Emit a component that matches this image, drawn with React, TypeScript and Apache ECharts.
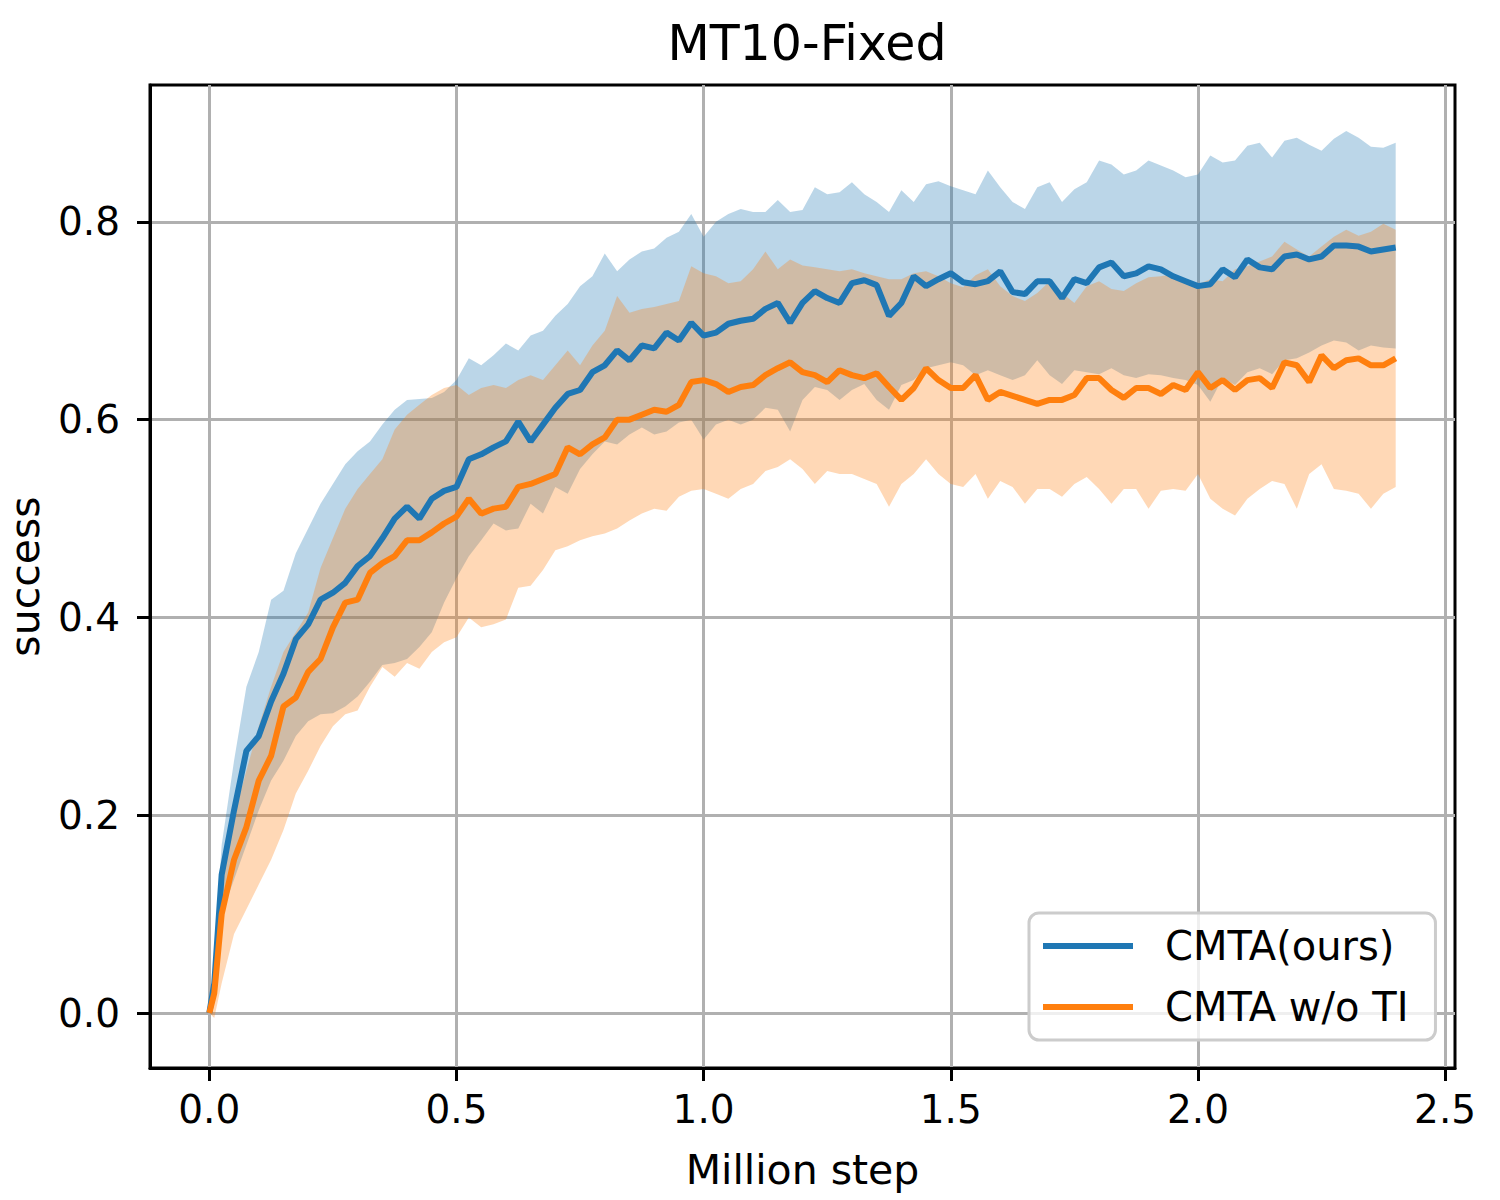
import React, { useEffect, useRef } from "react";
import * as echarts from "echarts";

// x positions (million steps)
const X = [
  0, 0.01, 0.025, 0.05, 0.075, 0.1, 0.125, 0.15, 0.175, 0.2, 0.225,
  0.25, 0.275, 0.3, 0.325, 0.35, 0.375, 0.4, 0.425, 0.45, 0.475,
  0.5, 0.525, 0.55, 0.575, 0.6, 0.625, 0.65, 0.675, 0.7, 0.725,
  0.75, 0.775, 0.8, 0.825, 0.85, 0.875, 0.9, 0.925, 0.95, 0.975,
  1.0, 1.025, 1.05, 1.075, 1.1, 1.125, 1.15, 1.175, 1.2, 1.225,
  1.25, 1.275, 1.3, 1.325, 1.35, 1.375, 1.4, 1.425, 1.45, 1.475,
  1.5, 1.525, 1.55, 1.575, 1.6, 1.625, 1.65, 1.675, 1.7, 1.725,
  1.75, 1.775, 1.8, 1.825, 1.85, 1.875, 1.9, 1.925, 1.95, 1.975,
  2.0, 2.025, 2.05, 2.075, 2.1, 2.125, 2.15, 2.175, 2.2, 2.225,
  2.25, 2.275, 2.3, 2.325, 2.35, 2.375, 2.4,
];

// CMTA(ours): mean, upper and lower band
const blueMean = [
  0, 0.03, 0.14, 0.205, 0.265, 0.28, 0.315, 0.343, 0.378, 0.393, 0.418,
  0.425, 0.435, 0.452, 0.462, 0.48, 0.5, 0.512, 0.5, 0.52, 0.528,
  0.532, 0.56, 0.565, 0.572, 0.578, 0.598, 0.578, 0.595, 0.612, 0.626,
  0.63, 0.648, 0.655, 0.67, 0.66, 0.675, 0.672, 0.688, 0.68, 0.698,
  0.685, 0.688, 0.697, 0.7, 0.702, 0.712, 0.718, 0.698, 0.718, 0.73,
  0.723, 0.718, 0.738, 0.741, 0.736, 0.705, 0.718, 0.745, 0.735, 0.742,
  0.748, 0.739, 0.737, 0.74, 0.75, 0.729, 0.727, 0.74, 0.74, 0.723,
  0.742, 0.738, 0.754, 0.759, 0.745, 0.748, 0.755, 0.752, 0.745, 0.74,
  0.735, 0.737, 0.752, 0.744, 0.762, 0.754, 0.752, 0.765, 0.767, 0.762,
  0.765, 0.776, 0.776, 0.775, 0.77, 0.772, 0.774,
];
const blueUpper = [
  0, 0.06, 0.17, 0.255, 0.33, 0.365, 0.418, 0.427, 0.465, 0.49, 0.515,
  0.535, 0.555, 0.568, 0.578, 0.595, 0.61, 0.62, 0.621, 0.622, 0.628,
  0.64, 0.662, 0.655, 0.665, 0.677, 0.67, 0.685, 0.69, 0.705, 0.717,
  0.735, 0.745, 0.768, 0.75, 0.762, 0.77, 0.773, 0.784, 0.79, 0.808,
  0.785, 0.8, 0.808, 0.813, 0.81, 0.81, 0.822, 0.81, 0.812, 0.835,
  0.828, 0.83, 0.84, 0.828, 0.82, 0.81, 0.832, 0.82, 0.838, 0.841,
  0.836, 0.832, 0.828, 0.852, 0.835, 0.82, 0.813, 0.835, 0.84, 0.82,
  0.833, 0.84, 0.862, 0.858, 0.848, 0.852, 0.862, 0.857, 0.852, 0.845,
  0.848, 0.867, 0.86, 0.862, 0.877, 0.88, 0.865, 0.882, 0.885, 0.878,
  0.872, 0.884, 0.892, 0.885, 0.876, 0.875, 0.88,
];
const blueLower = [
  0, 0.01, 0.1, 0.135, 0.17, 0.205, 0.235, 0.255, 0.28, 0.295, 0.302,
  0.303, 0.31, 0.32, 0.335, 0.352, 0.354, 0.358, 0.37, 0.385, 0.415,
  0.44, 0.462, 0.478, 0.495, 0.488, 0.49, 0.515, 0.505, 0.532, 0.525,
  0.55, 0.565, 0.578, 0.575, 0.585, 0.592, 0.585, 0.588, 0.597, 0.6,
  0.58, 0.595, 0.6, 0.595, 0.6, 0.612, 0.61, 0.588, 0.62, 0.633,
  0.63, 0.62, 0.63, 0.636, 0.62, 0.61, 0.635, 0.64, 0.652, 0.655,
  0.658, 0.655, 0.645, 0.65, 0.645, 0.64, 0.645, 0.66, 0.645, 0.636,
  0.65, 0.648, 0.646, 0.652, 0.645, 0.642, 0.646, 0.645, 0.642, 0.64,
  0.635, 0.618, 0.642, 0.635, 0.648, 0.652, 0.646, 0.66, 0.662, 0.668,
  0.675, 0.68, 0.678, 0.67, 0.675, 0.673, 0.672,
];

// CMTA w/o TI: mean, upper and lower band
const orangeMean = [
  0, 0.02, 0.1, 0.155, 0.188, 0.235, 0.26, 0.31, 0.319, 0.345, 0.358,
  0.39, 0.415, 0.418, 0.445, 0.455, 0.462, 0.478, 0.478, 0.486, 0.495,
  0.502, 0.52, 0.505, 0.51, 0.512, 0.532, 0.535, 0.54, 0.545, 0.572,
  0.565, 0.575, 0.582, 0.6, 0.6, 0.605, 0.61, 0.608, 0.615, 0.638,
  0.64, 0.636, 0.628, 0.633, 0.635, 0.645, 0.652, 0.658, 0.648, 0.645,
  0.638, 0.65, 0.645, 0.642, 0.647, 0.633, 0.62, 0.632, 0.652, 0.64,
  0.632, 0.632, 0.645, 0.62, 0.628, 0.624, 0.62, 0.616, 0.62, 0.62,
  0.625, 0.642, 0.642, 0.63, 0.622, 0.632, 0.632, 0.626, 0.635, 0.63,
  0.648, 0.632, 0.64, 0.63, 0.64, 0.642, 0.632, 0.658, 0.655, 0.638,
  0.665, 0.652, 0.66, 0.662, 0.655, 0.655, 0.662,
];
const orangeUpper = [
  0, 0.04, 0.13, 0.2, 0.245, 0.29, 0.33, 0.365, 0.385, 0.405, 0.45,
  0.48, 0.51, 0.53, 0.545, 0.56, 0.59, 0.605, 0.615, 0.625, 0.632,
  0.635, 0.625, 0.632, 0.635, 0.632, 0.64, 0.645, 0.64, 0.655, 0.67,
  0.655, 0.675, 0.69, 0.725, 0.708, 0.712, 0.714, 0.717, 0.72, 0.755,
  0.748, 0.745, 0.738, 0.74, 0.752, 0.77, 0.752, 0.762, 0.756, 0.754,
  0.752, 0.75, 0.752, 0.748, 0.745, 0.742, 0.742, 0.748, 0.75, 0.745,
  0.738, 0.734, 0.746, 0.752, 0.735, 0.725, 0.72, 0.728, 0.74, 0.728,
  0.718, 0.735, 0.74, 0.732, 0.73, 0.738, 0.744, 0.745, 0.747, 0.742,
  0.737, 0.742, 0.74, 0.752, 0.755, 0.76, 0.765, 0.78, 0.772, 0.765,
  0.775, 0.785, 0.792, 0.786, 0.79, 0.798, 0.792,
];
const orangeLower = [
  0, -0.005, 0.03, 0.08, 0.105, 0.13, 0.155, 0.185, 0.222, 0.245, 0.27,
  0.29, 0.302, 0.306, 0.33, 0.35, 0.34, 0.354, 0.348, 0.365, 0.375,
  0.38, 0.4, 0.39, 0.393, 0.398, 0.43, 0.432, 0.448, 0.468, 0.472,
  0.478, 0.482, 0.485, 0.49, 0.498, 0.505, 0.51, 0.508, 0.522, 0.528,
  0.53, 0.525, 0.52, 0.53, 0.535, 0.548, 0.552, 0.56, 0.55, 0.535,
  0.548, 0.545, 0.545, 0.54, 0.535, 0.512, 0.535, 0.545, 0.56, 0.545,
  0.535, 0.532, 0.545, 0.52, 0.538, 0.532, 0.515, 0.53, 0.53, 0.522,
  0.535, 0.542, 0.53, 0.515, 0.53, 0.53, 0.51, 0.528, 0.53, 0.528,
  0.545, 0.52, 0.51, 0.503, 0.52, 0.53, 0.538, 0.535, 0.51, 0.545,
  0.555, 0.53, 0.528, 0.525, 0.51, 0.525, 0.532,
];

const xTicks = [0, 0.5, 1.0, 1.5, 2.0, 2.5];
const yTicks = [0, 0.2, 0.4, 0.6, 0.8];

const BLUE = "#1f77b4";
const ORANGE = "#ff7f0e";
const FONT = "DejaVu Sans";

const pairs = (ys: number[]) => X.map((x, i) => [x, ys[i]]);

function bandSeries(upper: number[], lower: number[], fill: string) {
  return {
    type: "custom",
    silent: true,
    clip: true,
    z: 2,
    data: [[X[0], lower[0]]],
    renderItem: (_params: any, api: any) => {
      const pts: number[][] = [];
      for (let i = 0; i < X.length; i++) pts.push(api.coord([X[i], upper[i]]));
      for (let i = X.length - 1; i >= 0; i--) pts.push(api.coord([X[i], lower[i]]));
      return {
        type: "polygon",
        shape: { points: pts },
        style: { fill, stroke: "none" },
      };
    },
  };
}

export default function App() {
  const ref = useRef<HTMLDivElement>(null);
  useEffect(() => {
    if (!ref.current) return;
    const chart = echarts.init(ref.current, undefined, { renderer: "svg" });
    const axisCommon = {
      type: "value",
      axisLine: { show: true, onZero: false, lineStyle: { color: "#000", width: 3 } },
      axisTick: { show: true, length: 13, lineStyle: { color: "#000", width: 3 } },
      splitLine: { show: true, lineStyle: { color: "#b0b0b0", width: 3 } },
      nameTextStyle: { fontSize: 41, lineHeight: 30, color: "#000", fontFamily: FONT },
    };
    chart.setOption({
      animation: false,
      backgroundColor: "#fff",
      title: {
        text: "MT10-Fixed",
        left: 802,
        textAlign: "center",
        top: 14,
        textStyle: { fontSize: 49, fontWeight: "normal", color: "#000", fontFamily: FONT },
      },
      grid: {
        left: 150,
        right: 45,
        top: 85,
        bottom: 132,
        show: true,
        borderColor: "#000",
        borderWidth: 3,
        backgroundColor: "transparent",
        outerBoundsMode: "none",
        containLabel: false,
      },
      legend: {
        orient: "vertical",
        left: 1029,
        top: 913,
        data: ["CMTA(ours)", "CMTA w/o TI"],
        icon: "rect",
        itemWidth: 90,
        itemHeight: 6,
        itemGap: 21,
        padding: [13, 27, 13, 14],
        backgroundColor: "rgba(255,255,255,0.8)",
        borderColor: "#cccccc",
        borderWidth: 3,
        borderRadius: 10,
        textStyle: {
          fontSize: 40,
          lineHeight: 40,
          color: "#000",
          fontFamily: FONT,
          padding: [0, 0, 0, 27],
        },
      },
      xAxis: {
        ...axisCommon,
        min: -0.12,
        max: 2.52,
        name: "Million step",
        nameLocation: "middle",
        nameGap: 87,
        axisTick: { ...axisCommon.axisTick, customValues: xTicks },
        axisLabel: {
          customValues: xTicks,
          formatter: (v: number) => v.toFixed(1),
          fontSize: 39,
          color: "#000",
          fontFamily: FONT,
          margin: 22,
        },
      },
      yAxis: {
        ...axisCommon,
        min: -0.0556,
        max: 0.9384,
        name: "success",
        nameLocation: "middle",
        nameGap: 110,
        axisTick: { ...axisCommon.axisTick, customValues: yTicks },
        axisLabel: {
          customValues: yTicks,
          formatter: (v: number) => v.toFixed(1),
          fontSize: 39,
          color: "#000",
          fontFamily: FONT,
          margin: 30,
        },
      },
      series: [
        bandSeries(blueUpper, blueLower, "rgba(31,119,180,0.3)"),
        bandSeries(orangeUpper, orangeLower, "rgba(255,127,14,0.3)"),
        {
          type: "line",
          name: "CMTA(ours)",
          symbol: "none",
          color: BLUE,
          lineStyle: { color: BLUE, width: 6 },
          z: 5,
          data: pairs(blueMean),
        },
        {
          type: "line",
          name: "CMTA w/o TI",
          symbol: "none",
          color: ORANGE,
          lineStyle: { color: ORANGE, width: 6 },
          z: 5,
          data: pairs(orangeMean),
        },
      ],
    });
    return () => chart.dispose();
  }, []);
  return (
    <div
      ref={ref}
      style={{ position: "fixed", left: 0, top: 0, width: 1500, height: 1200 }}
    />
  );
}
